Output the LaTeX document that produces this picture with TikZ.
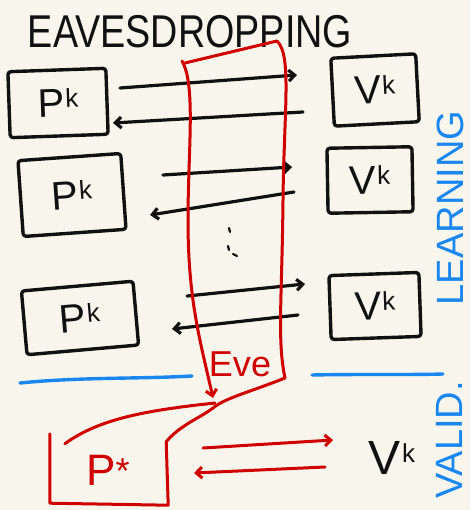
\documentclass[tikz,border=0pt]{standalone}
\usepackage{fontspec}
\setmainfont{Liberation Sans}
\usetikzlibrary{arrows.meta}
\definecolor{paper}{HTML}{F8F6EC}
\definecolor{ink}{HTML}{111111}
\definecolor{evered}{HTML}{D00000}
\definecolor{skyblue}{HTML}{1A86F0}
% letter with a raised small index
\newcommand\withsup[3]{#1\kern1pt\raisebox{#3}{\fontsize{26}{26}\selectfont #2}}

\begin{document}
\begin{tikzpicture}[x=1pt,y=-1pt,line cap=round,line join=round,
  box/.style={draw=ink,line width=3.4pt,rounded corners=3pt,inner sep=0pt,
    text=ink,font=\fontsize{40}{40}\selectfont},
  msg/.style={draw=ink,line width=3.2pt,-{Straight Barb[length=6pt,width=11pt]}},
  evepen/.style={draw=evered,line width=3pt},
  evemsg/.style={evepen,-{Straight Barb[length=6pt,width=11pt]}},
  bluepen/.style={draw=skyblue,line width=3.4pt},
  bluetext/.style={text=skyblue,inner sep=0pt,rotate=90}]
\fill[paper] (0,0) rectangle (470,510);
\useasboundingbox (0,0) rectangle (470,510);

% heading
\node[inner sep=0pt,text=ink,xscale=0.82,font=\fontsize{46}{46}\selectfont]
  (title) at (190,32) {EAVESDROPPING};

% honest provers
\node[box,minimum width=98pt,minimum height=66pt,rotate=2] (p1) at (58,103) {\withsup{P}{k}{9pt}};
\node[box,minimum width=103pt,minimum height=76pt,rotate=4] (p2) at (72,195) {\withsup{P}{k}{9pt}};
\node[box,minimum width=112pt,minimum height=64pt,rotate=5] (p3) at (80,318) {\withsup{P}{k}{9pt}};

% verifiers
\node[box,minimum width=85pt,minimum height=68pt,rotate=3] (v1) at (375,90) {\withsup{V}{k}{9pt}};
\node[box,minimum width=85pt,minimum height=65pt,rotate=1] (v2) at (370,180) {\withsup{V}{k}{9pt}};
\node[box,minimum width=90pt,minimum height=64pt,rotate=2] (v3) at (375,306) {\withsup{V}{k}{9pt}};

% message endpoints
\coordinate (a1s) at (120,88);  \coordinate (a1e) at (297,75);
\coordinate (b1s) at (303,112); \coordinate (b1e) at (113,123);
\coordinate (a2s) at (163,175); \coordinate (a2e) at (292,167);
\coordinate (b2s) at (294,192); \coordinate (b2e) at (150,215);
\coordinate (a3s) at (187,296); \coordinate (a3e) at (305,284);
\coordinate (b3s) at (298,315); \coordinate (b3e) at (172,329);

\draw[msg] (a1s) -- (a1e);
\draw[msg] (b1s) -- (b1e);
\draw[msg] (a2s) -- (a2e);
\draw[msg] (b2s) -- (b2e);
\draw[msg] (a3s) -- (a3e);
\draw[msg] (b3s) -- (b3e);

% vertical ellipsis
\draw[ink,line width=2.2pt] (229,228) -- (230,232);
\draw[ink,line width=2.2pt] (228,246) -- (229,250);
\draw[ink,line width=2.2pt] (233,254) -- (237,256);

% Eve's listening column
\coordinate (ctl) at (182,61);
\coordinate (ctr) at (277,41);
\coordinate (cbl) at (213,398);
\coordinate (cbr) at (285,378);
\draw[evepen] (185,63) -- (ctr);
\draw[evemsg] (ctl) .. controls (196,85) and (188,150) .. (188,220)
  .. controls (188,300) and (200,340) .. (cbl);
\draw[evepen] (ctr) .. controls (292,55) and (284,110) .. (283,200)
  .. controls (282,300) and (277,340) .. (cbr);
\node[text=evered,inner sep=0pt,font=\fontsize{36}{36}\selectfont] (eve) at (240,364) {Eve};

% separator
\draw[bluepen] (20,383) .. controls (80,377) and (140,379) .. (192,376);
\draw[bluepen] (312,375) .. controls (360,374) and (410,375) .. (443,374);

% cheating prover
\node[inner sep=0pt,minimum width=116pt,minimum height=66pt,text=evered,
  font=\fontsize{44}{44}\selectfont] (ps) at (108,470) {P\raisebox{2pt}{\fontsize{36}{36}\selectfont *}};
\draw[evepen] ([yshift=3pt]ps.north west) -- (ps.south west) -- ([xshift=2pt,yshift=-2pt]ps.south east) -- ([yshift=-5pt]ps.north east);
\draw[evepen] (215,403) .. controls (150,410) and (100,418) .. ([xshift=15pt,yshift=-7pt]ps.north west);
\draw[evepen] (cbr) .. controls (250,392) and (225,398) .. (213,408)
  .. controls (200,418) and (180,425) .. ([yshift=-5pt]ps.north east);

\node[inner sep=0pt,text=ink,font=\fontsize{48}{48}\selectfont] (vs) at (392,458) {\withsup{V}{k}{12pt}};
\coordinate (fs) at (203,448); \coordinate (fe) at (333,440);
\coordinate (gs) at (325,467); \coordinate (ge) at (194,473);
\draw[evemsg] (fs) -- (fe);
\draw[evemsg] (gs) -- (ge);

% phase labels
\node[bluetext,font=\fontsize{38}{38}\selectfont] (learn) at (450,208) {LEARNING};
\node[bluetext,font=\fontsize{38}{38}\selectfont] (valid) at (449,440) {VALID.};
\end{tikzpicture}
\end{document}
